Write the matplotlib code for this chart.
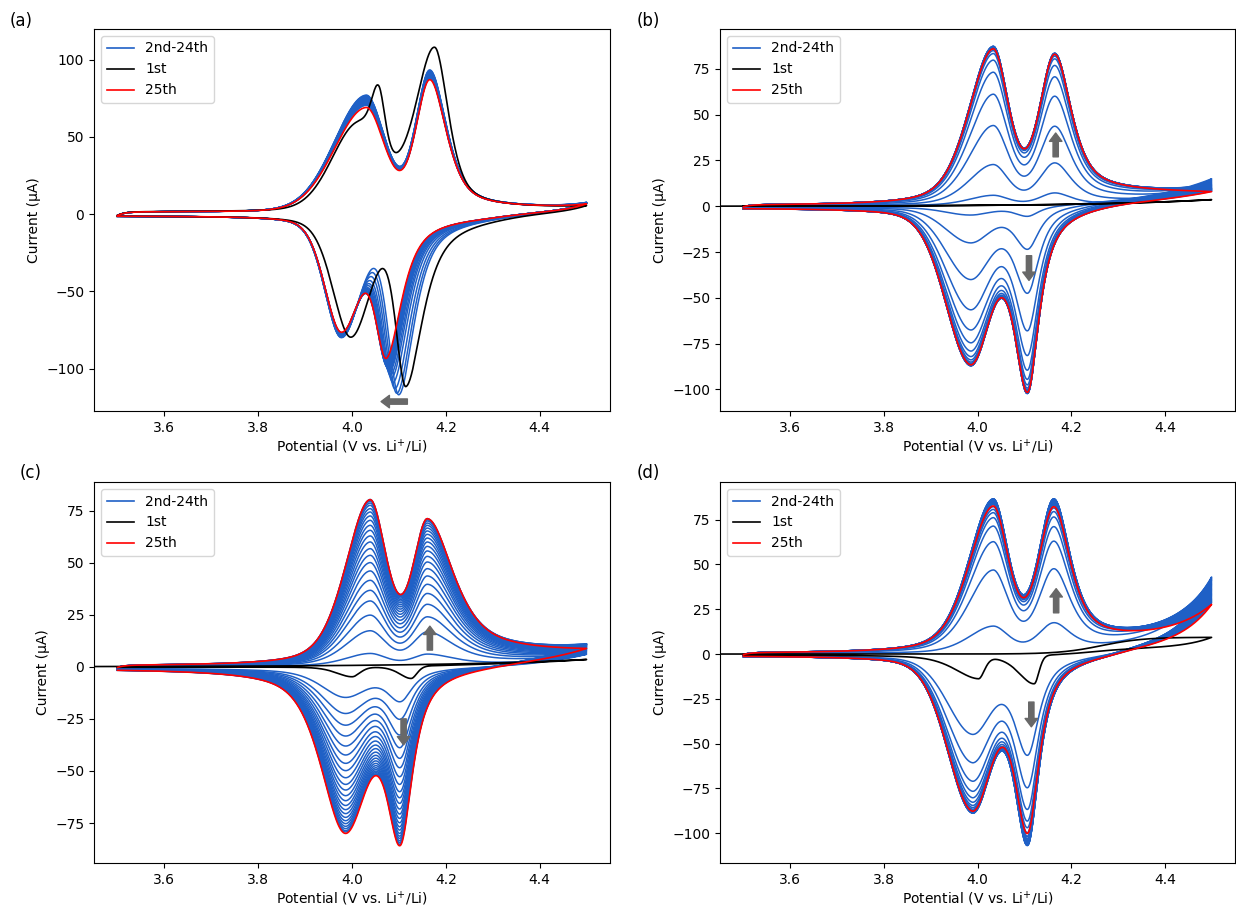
import numpy as np
import matplotlib
matplotlib.use("Agg")
import matplotlib.pyplot as plt
from matplotlib.lines import Line2D

# ---------------- data ----------------
# every list: cycles 2..24 (blue) followed by cycle 25 (red); currents in uA at the peak potentials
# panel (a)
A_EA = [4.030, 4.166]                       # anodic peak potentials
A_PA1 = [77.0, 76.7, 76.4, 76.1, 75.8, 75.5, 75.2, 74.9, 74.6, 74.3, 74.0, 73.7,
         73.4, 73.1, 72.8, 72.5, 72.2, 71.9, 71.6, 71.3, 71.0, 70.7, 70.4, 69.0]
A_PA2 = [93.3, 93.0, 92.7, 92.4, 92.1, 91.8, 91.5, 91.2, 90.9, 90.6, 90.3, 90.0,
         89.7, 89.4, 89.2, 89.0, 88.8, 88.6, 88.4, 88.2, 88.0, 87.9, 87.8, 87.0]
A_EC1 = 3.977
A_PC1 = [-80.0, -79.8, -79.6, -79.4, -79.2, -79.0, -78.8, -78.6, -78.4, -78.2, -78.0, -77.9,
         -77.8, -77.7, -77.6, -77.5, -77.4, -77.3, -77.2, -77.1, -77.0, -76.9, -76.8, -76.5]
A_EC2 = [4.100, 4.096, 4.092, 4.088, 4.085, 4.083, 4.081, 4.080, 4.079, 4.078, 4.077, 4.077,
         4.076, 4.076, 4.076, 4.075, 4.075, 4.075, 4.075, 4.075, 4.075, 4.075, 4.075, 4.074]
A_PC2 = [-117.0, -116.0, -113.0, -109.0, -106.0, -104.0, -102.0, -101.0, -100.0, -99.5, -99.0, -98.5,
         -98.0, -97.5, -97.0, -96.5, -96.0, -95.5, -95.0, -94.5, -94.0, -94.0, -93.5, -93.3]
A_END = [7.6, 7.5, 7.5, 7.4, 7.4, 7.3, 7.3, 7.2, 7.2, 7.1, 7.1, 7.0,
         7.0, 7.0, 6.9, 6.9, 6.9, 6.8, 6.8, 6.8, 6.7, 6.7, 6.7, 6.6]
A1_EA = [4.012, 4.057, 4.176]
A1_PA = [60.0, 83.1, 108.0]
A1_EC = [3.997, 4.115]
A1_PC = [-79.7, -111.7]
A1_END = 5.5

# panel (b)
B_EA = [4.033, 4.165]
B_EC = [3.984, 4.107]
B_PA1 = [6.0, 22.8, 44.1, 61.2, 73.2, 79.8, 83.4, 85.0, 86.0, 86.6, 87.0, 87.2,
         87.3, 87.3, 87.3, 87.2, 87.1, 87.0, 86.9, 86.7, 86.6, 86.4, 86.2, 86.0]
B_PA2 = [7.3, 23.7, 43.7, 60.1, 70.7, 76.9, 80.5, 82.0, 82.8, 83.2, 83.4, 83.5,
         83.5, 83.5, 83.5, 83.4, 83.4, 83.3, 83.3, 83.2, 83.2, 83.1, 83.1, 83.0]
B_PC1 = [-4.8, -20.0, -40.0, -56.5, -67.5, -74.5, -79.0, -82.0, -83.8, -85.0, -85.7, -86.2,
         -86.5, -86.7, -86.9, -87.0, -87.0, -87.0, -86.9, -86.9, -86.8, -86.7, -86.6, -86.5]
B_PC2 = [-5.5, -23.5, -47.5, -68.0, -81.5, -89.5, -94.5, -97.5, -99.3, -100.3, -100.9, -101.3,
         -101.6, -101.8, -102.0, -102.1, -102.2, -102.2, -102.2, -102.1, -102.0, -101.9, -101.8, -101.6]
B_END = [15.0, 14.5, 14.0, 13.5, 13.0, 12.6, 12.2, 11.8, 11.5, 11.2, 10.9, 10.6,
         10.3, 10.0, 9.8, 9.6, 9.4, 9.2, 9.0, 8.8, 8.6, 8.4, 8.2, 8.0]
B1_END = 3.6

# panel (c)
C_EA = [4.038, 4.161]
C_EC = [3.984, 4.103]
C_PA1 = [6.4, 17.3, 24.8, 31.6, 36.7, 41.5, 46.0, 50.0, 53.5, 56.7, 59.9, 62.8,
         65.5, 67.9, 70.3, 72.4, 74.3, 75.9, 77.5, 78.6, 79.5, 80.0, 80.3, 80.2]
C_PA2 = [6.1, 16.8, 24.0, 30.0, 35.2, 39.6, 43.6, 47.1, 50.3, 53.0, 55.6, 57.8,
         59.9, 61.8, 63.6, 65.2, 66.6, 67.9, 69.0, 70.0, 70.6, 70.9, 71.1, 71.1]
C_PC1 = [-14.7, -22.4, -28.0, -33.2, -38.0, -42.3, -46.3, -49.8, -53.2, -56.4, -59.1, -61.8,
         -64.2, -66.5, -68.5, -70.4, -72.2, -73.8, -75.2, -76.5, -77.6, -78.6, -79.2, -79.9]
C_PC2 = [-16.8, -25.2, -32.7, -38.8, -43.9, -48.4, -52.7, -56.4, -59.9, -62.8, -65.5, -68.2,
         -70.6, -72.7, -74.8, -76.7, -78.3, -79.9, -81.2, -82.3, -83.4, -84.3, -85.1, -85.8]
C_END = [6.0, 6.5, 7.0, 7.4, 7.8, 8.1, 8.4, 8.7, 9.0, 9.2, 9.4, 9.6,
         9.8, 10.0, 10.2, 10.4, 10.5, 10.6, 10.7, 10.8, 10.9, 11.0, 11.0, 8.8]
C1_EC = [4.000, 4.126]
C1_PC = [-4.8, -5.6]
C1_END = 3.5

# panel (d)
D_EA = [4.033, 4.163]
D_EC = [3.988, 4.107]
D_PA1 = [15.6, 46.9, 62.7, 71.4, 76.1, 78.9, 80.7, 82.2, 83.4, 84.3, 85.0, 85.6,
         86.0, 86.3, 86.5, 86.6, 86.6, 86.5, 86.3, 86.0, 85.5, 84.8, 84.0, 82.6]
D_PA2 = [17.5, 47.6, 63.0, 71.1, 76.5, 79.5, 81.5, 83.0, 84.1, 84.9, 85.5, 86.0,
         86.3, 86.5, 86.6, 86.6, 86.5, 86.3, 86.0, 85.6, 85.0, 84.3, 83.4, 82.2]
D_PC1 = [-44.8, -60.6, -70.9, -76.5, -80.1, -82.6, -84.4, -85.6, -86.5, -87.2, -87.7, -88.1,
         -88.4, -88.6, -88.7, -88.7, -88.6, -88.5, -88.3, -88.1, -87.9, -87.7, -87.6, -87.6]
D_PC2 = [-56.5, -74.6, -86.7, -93.2, -96.9, -99.7, -101.8, -103.3, -104.4, -105.2, -105.8, -106.2,
         -106.5, -106.7, -106.8, -106.8, -106.6, -106.3, -105.8, -105.0, -104.0, -103.0, -101.8, -100.1]
D_END = [43.0, 42.5, 42.0, 41.5, 41.0, 40.3, 39.6, 38.9, 38.2, 37.5, 36.8, 36.1,
         35.4, 34.7, 34.0, 33.3, 32.6, 31.9, 31.2, 30.5, 29.9, 29.3, 28.7, 27.7]
D1_EC = [4.002, 4.121]
D1_PC = [-13.8, -16.6]
D1_END = 9.3

LEGEND_LABELS = ["2nd-24th", "1st", "25th"]
PANEL_LABELS = ["(a)", "(b)", "(c)", "(d)"]
XTICKS = [3.6, 3.8, 4.0, 4.2, 4.4]

# ---------------- peak-shape model ----------------
LN2 = np.log(2.0)


def pv(E, E0, wl, wr, el, er):
    d = np.asarray(E, float) - E0
    neg = d < 0
    w = np.where(neg, wl, wr)
    eta = np.where(neg, el, er)
    x = d / w
    return (1 - eta) * np.exp(-LN2 * x * x) + eta / (1 + x * x)


def sig(z):
    return 1.0 / (1.0 + np.exp(-z))


def psum(E, shapes, amps):
    E = np.asarray(E, float)
    out = np.zeros_like(E)
    for s, a in zip(shapes, amps):
        out = out + a * pv(E, *s)
    return out


def solve(shapes, targets, base):
    if len(shapes) == 0:
        return []
    pos = np.array([s[0] for s in shapes])
    M = np.array([[float(pv(p, *s)) for s in shapes] for p in pos])
    return np.linalg.solve(M, np.asarray(targets, float) - base(pos))


def cycle(an_shapes, an_t, ca_shapes, ca_t, end, bl, e_start=3.5, n=700):
    s0, s1, es, ws, ta, c0, c1, ec, wc, tc = bl
    Ea = np.linspace(e_start, 4.5, n)
    Ec = np.linspace(4.5, 3.5, n)
    trans = (c0 - s0) if e_start >= 3.5 else 0.0

    def base_a(E, T):
        return (s0 + s1 * sig((E - es) / ws) + trans * np.exp(-(E - e_start) / 0.015)
                + T * np.exp((E - 4.5) / ta))

    T = 0.0
    for _ in range(3):
        amps = solve(an_shapes, an_t, lambda E: base_a(E, T))
        rest = base_a(np.array([4.5]), 0.0)[0] + psum([4.5], an_shapes, amps)[0]
        T = end - rest
    amps = solve(an_shapes, an_t, lambda E: base_a(E, T))
    Ia = base_a(Ea, T) + psum(Ea, an_shapes, amps)

    def base_c(E, K):
        return c0 + c1 * sig((E - ec) / wc) + K * np.exp((E - 4.5) / tc)

    K = 0.0
    for _ in range(3):
        ampc = solve(ca_shapes, ca_t, lambda E: base_c(E, K))
        rest = base_c(np.array([4.5]), 0.0)[0] + psum([4.5], ca_shapes, ampc)[0]
        K = Ia[-1] - rest
    ampc = solve(ca_shapes, ca_t, lambda E: base_c(E, K))
    Ic = base_c(Ec, K) + psum(Ec, ca_shapes, ampc)
    return np.concatenate([Ea, Ec]), np.concatenate([Ia, Ic])


# ---------------- style ----------------
BLUE = "#1f60c6"
RED = "#ff0000"
BLACK = "#000000"
ARROW_C = "#686868"

plt.rcParams["font.family"] = ["DejaVu Sans"]
plt.rcParams["font.size"] = 10

fig = plt.figure(figsize=(12.36, 9.07), dpi=100)
W, H = 1236.0, 907.0


def make_ax(x0, y0, x1, y1):
    return fig.add_axes([x0 / W, 1 - y1 / H, (x1 - x0) / W, (y1 - y0) / H])


axA = make_ax(94, 29, 610, 411)
axB = make_ax(720, 29, 1235, 411)
axC = make_ax(94, 482, 610, 863)
axD = make_ax(720, 482, 1235, 863)


def arrow(ax, tail, tip):
    ax.annotate("", xy=tip, xytext=tail,
                arrowprops=dict(arrowstyle="simple,head_length=0.6,head_width=0.9,tail_width=0.38",
                                color=ARROW_C, shrinkA=0, shrinkB=0, mutation_scale=10), zorder=5)


def finish(ax, ylim, yticks, label, lpos):
    ax.set_xlim(3.45, 4.55)
    ax.set_ylim(*ylim)
    ax.set_xticks(XTICKS)
    ax.set_yticks(yticks)
    ax.set_xlabel("Potential (V vs. Li$^{+}$/Li)", labelpad=2)
    ax.set_ylabel("Current (\u03bcA)", labelpad=4)
    handles = [Line2D([], [], color=BLUE, lw=1.2), Line2D([], [], color=BLACK, lw=1.2),
               Line2D([], [], color=RED, lw=1.2)]
    ax.legend(handles, LEGEND_LABELS, loc="upper left", fontsize=10)
    fig.text(lpos[0] / W, 1 - lpos[1] / H, label, fontsize=12, ha="left", va="center")


def draw(ax, curves):
    for i, (E, I) in enumerate(curves[:-2]):
        ax.plot(E, I, color=BLUE, lw=1.1, zorder=2)
    E, I = curves[-2]
    ax.plot(E, I, color=BLACK, lw=1.2, zorder=3)
    E, I = curves[-1]
    ax.plot(E, I, color=RED, lw=1.2, zorder=4)


# ---- panel (a)
curves = []
blA = (1.2, 2.4, 4.15, 0.05, 0.05, -1.2, 3.5, 4.33, 0.04, 0.05)
for i in range(len(A_PA1)):
    an = [(A_EA[0], 0.080, 0.047, 0.1, 0.3), (A_EA[1], 0.035, 0.042, 0.3, 0.6)]
    ca = [(A_EC1, 0.042, 0.050, 0.3, 0.3), (A_EC2[i], 0.027, 0.040, 0.3, 0.8)]
    curves.append(cycle(an, [A_PA1[i], A_PA2[i]], ca, [A_PC1[i], A_PC2[i]], A_END[i], blA))
an1 = [(A1_EA[0], 0.065, 0.060, 0.1, 0.3), (A1_EA[1], 0.018, 0.016, 0.3, 0.3),
       (A1_EA[2], 0.049, 0.035, 0.4, 0.6)]
ca1 = [(A1_EC[0], 0.045, 0.050, 0.3, 0.3), (A1_EC[1], 0.025, 0.044, 0.3, 0.85)]
first = cycle(an1, A1_PA, ca1, A1_PC, A1_END, blA)
curves = curves[:-1] + [first, curves[-1]]
draw(axA, curves)
arrow(axA, (4.118, -121.4), (4.062, -121.4))
finish(axA, (-127.5, 119.8), [-100, -50, 0, 50, 100], PANEL_LABELS[0], (10, 21))


# ---- generic panels (b), (c), (d)
def panel(ax, EA, EC, PA1, PA2, PC1, PC2, END, anw, caw, blp, first_curve):
    s0, S1, es, ws, ta, c0, C1, ec, wc, tc = blp
    mx = max(PA2)
    out = []
    for i in range(len(PA1)):
        act = PA2[i] / mx
        bl = (s0, S1 * act, es, ws, ta, c0, C1 * act, ec, wc, tc)
        an = [(EA[0],) + anw[0], (EA[1],) + anw[1]]
        ca = [(EC[0],) + caw[0], (EC[1],) + caw[1]]
        out.append(cycle(an, [PA1[i], PA2[i]], ca, [PC1[i], PC2[i]], END[i], bl))
    out = out[:-1] + [first_curve, out[-1]]
    draw(ax, out)


# (b)
firstB = cycle([], [], [], [], B1_END, (0.0, 0.0, 4.2, 0.05, 0.25, 0.0, 0.0, 4.2, 0.05, 0.25), e_start=3.40)
panel(axB, B_EA, B_EC, B_PA1, B_PA2, B_PC1, B_PC2, B_END,
      [(0.062, 0.039, 0.4, 0.4), (0.038, 0.042, 0.4, 0.7)],
      [(0.062, 0.050, 0.2, 0.2), (0.035, 0.030, 0.8, 0.9)],
      (0.3, 7.0, 4.12, 0.05, 0.07, -0.8, 2.3, 4.25, 0.04, 0.15), firstB)
arrow(axB, (4.167, 27.0), (4.167, 40.0))
arrow(axB, (4.110, -27.0), (4.110, -40.5))
finish(axB, (-111.8, 96.8), [-100, -75, -50, -25, 0, 25, 50, 75], PANEL_LABELS[1], (637, 21))

# (c)
firstC = cycle([], [], [(C1_EC[0], 0.040, 0.020, 0.5, 0.3), (C1_EC[1], 0.030, 0.015, 0.5, 0.3)],
               C1_PC, C1_END, (0.0, 0.0, 4.2, 0.05, 0.3, -0.3, 0.0, 4.2, 0.05, 0.25), e_start=3.40)
panel(axC, C_EA, C_EC, C_PA1, C_PA2, C_PC1, C_PC2, C_END,
      [(0.062, 0.042, 0.4, 0.4), (0.037, 0.066, 0.4, 0.7)],
      [(0.060, 0.055, 0.6, 0.2), (0.036, 0.032, 0.8, 0.9)],
      (0.3, 6.0, 4.13, 0.05, 0.10, -0.8, 2.0, 4.30, 0.05, 0.12), firstC)
arrow(axC, (4.166, 8.0), (4.166, 19.5))
arrow(axC, (4.110, -25.0), (4.110, -37.5))
finish(axC, (-94.2, 88.7), [-75, -50, -25, 0, 25, 50, 75], PANEL_LABELS[2], (20, 473))

# (d)
firstD = cycle([], [], [(D1_EC[0], 0.060, 0.015, 0.5, 0.2), (D1_EC[1], 0.040, 0.012, 0.5, 0.2)],
               D1_PC, D1_END, (0.0, 9.4, 4.265, 0.045, 0.1, -0.5, 3.5, 4.25, 0.04, 0.063), e_start=3.40)
panel(axD, D_EA, D_EC, D_PA1, D_PA2, D_PC1, D_PC2, D_END,
      [(0.062, 0.039, 0.4, 0.4), (0.038, 0.042, 0.4, 0.7)],
      [(0.062, 0.049, 0.2, 0.2), (0.035, 0.030, 0.8, 0.9)],
      (0.3, 6.5, 4.13, 0.05, 0.09, -0.8, 4.5, 4.30, 0.04, 0.07), firstD)
arrow(axD, (4.168, 23.0), (4.168, 36.5))
arrow(axD, (4.115, -26.8), (4.115, -40.6))
finish(axD, (-116.6, 96.0), [-100, -75, -50, -25, 0, 25, 50, 75], PANEL_LABELS[3], (637, 473))

fig.savefig("out.png", dpi=100)
